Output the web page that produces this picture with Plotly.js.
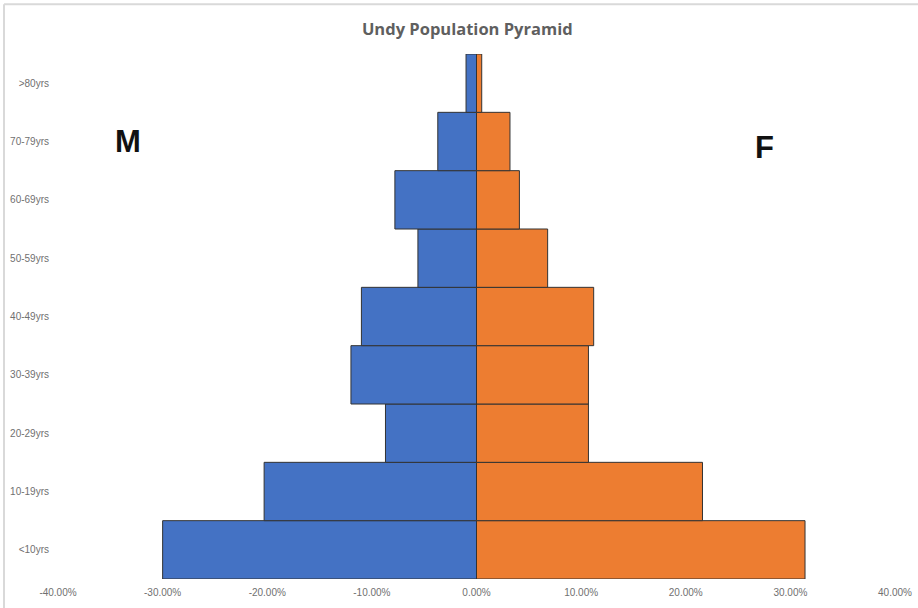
<!DOCTYPE html>
<html>
<head>
<meta charset="utf-8">
<script src="https://cdn.plot.ly/plotly-3.0.1.min.js"></script>
<style>
  html, body { margin: 0; padding: 0; background: #fff; }
  #chart { width: 918px; height: 608px; }
</style>
</head>
<body>
<div id="chart"></div>
<script>
const ageGroups = ['<10yrs', '10-19yrs', '20-29yrs', '30-39yrs', '40-49yrs', '50-59yrs', '60-69yrs', '70-79yrs', '>80yrs'];
const maleShare = [30.0, 20.3, 8.7, 12.0, 11.0, 5.6, 7.8, 3.7, 1.0];
const femaleShare = [31.4, 21.6, 10.7, 10.7, 11.2, 6.8, 4.1, 3.2, 0.5];
const xTickValues = [-40, -30, -20, -10, 0, 10, 20, 30, 40];
const xTickLabels = ['-40.00%', '-30.00%', '-20.00%', '-10.00%', '0.00%', '10.00%', '20.00%', '30.00%', '40.00%'];

const tickFont = { family: '"Liberation Sans Narrow", "Liberation Sans", Arial, sans-serif', size: 10, color: '#707070' };

const traces = [
  {
    type: 'bar', orientation: 'h', name: 'M',
    y: ageGroups,
    x: maleShare.map(v => -v),
    marker: { color: '#4472C4', line: { color: '#333333', width: 1 } },
    hoverinfo: 'skip'
  },
  {
    type: 'bar', orientation: 'h', name: 'F',
    y: ageGroups,
    x: femaleShare,
    marker: { color: '#ED7D31', line: { color: '#333333', width: 1 } },
    hoverinfo: 'skip'
  }
];

const layout = {
  width: 918, height: 608,
  margin: { l: 58, r: 23, t: 54, b: 29, pad: 0 },
  paper_bgcolor: '#ffffff', plot_bgcolor: '#ffffff',
  barmode: 'relative', bargap: 0,
  showlegend: false,
  title: {
    text: 'Undy Population Pyramid',
    font: { family: '"Open Sans", "Liberation Sans", Arial, sans-serif', size: 16.5, color: '#5f5f5f', weight: 'bold' },
    xref: 'container', yref: 'container',
    x: 0.509, y: 0.952, xanchor: 'center', yanchor: 'middle'
  },
  xaxis: {
    range: [-40, 40],
    tickvals: xTickValues, ticktext: xTickLabels,
    showgrid: false, zeroline: false, showline: false,
    ticks: '', tickfont: tickFont, ticklabelstandoff: 6,
    fixedrange: true
  },
  yaxis: {
    type: 'category',
    categoryorder: 'array', categoryarray: ageGroups,
    range: [-0.5, ageGroups.length - 0.5],
    showgrid: false, zeroline: false, showline: false,
    ticks: '', tickfont: tickFont, ticklabelstandoff: 8,
    fixedrange: true
  },
  annotations: [
    { text: 'M', xref: 'paper', yref: 'paper', x: 0.0836, y: 0.833, showarrow: false,
      xanchor: 'center', yanchor: 'middle',
      font: { family: 'Arial, "Liberation Sans", sans-serif', size: 31, color: '#111111', weight: 'bold' } },
    { text: 'F', xref: 'paper', yref: 'paper', x: 0.8443, y: 0.821, showarrow: false,
      xanchor: 'center', yanchor: 'middle',
      font: { family: 'Arial, "Liberation Sans", sans-serif', size: 31, color: '#111111', weight: 'bold' } }
  ],
  shapes: [
    { type: 'line', xref: 'paper', yref: 'paper', x0: -0.0645, x1: -0.0645, y0: -0.06, y1: 1.095,
      line: { color: '#d9d9d9', width: 2 } },
    { type: 'line', xref: 'paper', yref: 'paper', x0: -0.0645, x1: 1.03, y0: 1.095, y1: 1.095,
      line: { color: '#d9d9d9', width: 2 } }
  ]
};

Plotly.newPlot('chart', traces, layout, { displayModeBar: false, staticPlot: true });
</script>
</body>
</html>
